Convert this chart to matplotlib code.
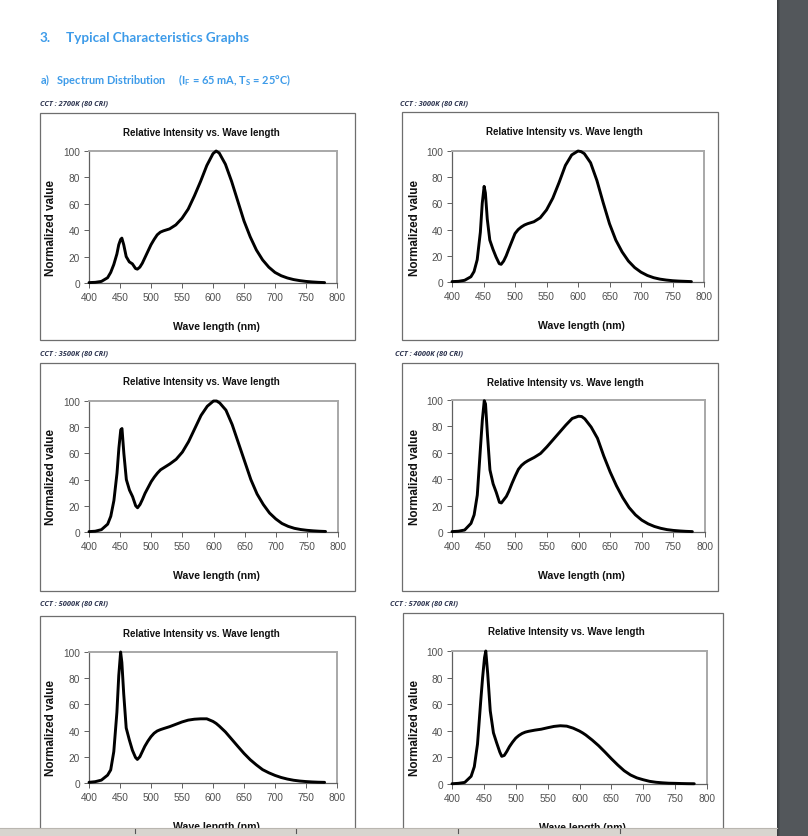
import matplotlib
matplotlib.use('Agg')
import matplotlib.pyplot as plt
from matplotlib.patches import Rectangle
from matplotlib.lines import Line2D
from matplotlib import font_manager

W, H, DPI = 808, 837, 100

# ---------------- data ----------------
wavelength = [400, 410, 420, 430, 435, 440, 445, 448, 451, 453, 456, 460, 465, 470,
              475, 478, 482, 486, 490, 495, 500, 505, 510, 515, 520, 530, 540, 550,
              560, 570, 580, 590, 600, 605, 610, 620, 630, 640, 650, 660, 670, 680,
              690, 700, 710, 720, 730, 740, 750, 760, 770, 780]

cct_2700 = [0.3, 0.5, 1.2, 4, 8, 14, 22, 29, 33, 34, 29, 20, 16, 14.5,
            11, 10.5, 12, 15, 19, 24, 29, 33, 36.5, 38.5, 39.5, 41, 44, 49,
            56, 66, 77, 89, 98, 100, 98.5, 90, 77, 62, 47, 35, 25, 17.5,
            12, 8, 5.5, 3.8, 2.6, 1.8, 1.2, 0.8, 0.5, 0.3]

cct_3000 = [0.3, 0.5, 1.3, 4, 8, 17, 38, 60, 73, 68, 48, 32, 25, 19,
            14, 13.5, 16, 20, 25, 31, 37, 40, 42, 43.5, 44.5, 46, 49, 55,
            64, 76, 89, 97, 100, 99.5, 98, 91, 77.5, 60.5, 44.5, 32, 23, 16,
            11, 7.5, 5, 3.3, 2.2, 1.5, 1.0, 0.7, 0.5, 0.3]

cct_3500 = [0.3, 0.6, 1.8, 6, 12, 24, 45, 64, 78, 79, 60, 40, 32, 27,
            20, 18.5, 21, 25, 29.5, 34, 38.5, 42, 45, 47.5, 49, 52, 55.5, 61,
            69, 79, 89, 96, 100, 100, 98.5, 93, 82, 68, 54, 40, 29, 21,
            14.5, 10, 6.5, 4.3, 2.8, 1.9, 1.3, 0.9, 0.6, 0.4]

cct_4000 = [0.3, 0.6, 1.5, 6.5, 13, 28, 64, 85, 99.5, 97, 74, 47, 36.5, 30,
            22.5, 22, 24.5, 27, 31, 37, 42.5, 47.5, 50.5, 52.5, 54, 56.5, 59.5, 64.5,
            70, 75.5, 81, 86, 87.7, 87.5, 85.7, 79.5, 71, 57.5, 45.5, 35, 26, 18.5,
            13, 9, 6.2, 4.2, 2.8, 1.8, 1.2, 0.8, 0.5, 0.3]

cct_5000 = [0.5, 1, 2.2, 6, 10, 24, 54, 82, 100, 92, 68, 42, 33, 25,
            19.5, 18, 20, 24, 28, 32, 35.4, 38, 39.7, 40.7, 41.5, 43, 44.8, 46.6,
            48, 48.7, 49, 49, 47, 45.5, 43.5, 39, 33.5, 28, 22.6, 17.8, 13.8, 10.2,
            7.8, 5.8, 4.2, 3, 2.1, 1.5, 1.1, 0.8, 0.6, 0.5]

cct_5700 = [0.2, 0.5, 1.2, 5.8, 13, 30, 62, 80, 95, 100, 83, 55, 38.5, 31,
            24, 20.8, 21.5, 24.5, 28, 31.5, 34.5, 36.5, 38, 39, 39.6, 40.5, 41.2, 42.3,
            43.3, 43.8, 43.5, 42, 39.8, 38.4, 36.8, 33, 28.8, 24, 19, 14.3, 10, 6.8,
            4.6, 3.2, 2, 1.3, 0.9, 0.6, 0.5, 0.35, 0.25, 0.2]

cct_labels = ['CCT : 2700K (80 CRI)', 'CCT : 3000K (80 CRI)', 'CCT : 3500K (80 CRI)',
              'CCT : 4000K (80 CRI)', 'CCT : 5000K (80 CRI)', 'CCT : 5700K (80 CRI)']
x_ticks = [400, 450, 500, 550, 600, 650, 700, 750, 800]
y_ticks = [0, 20, 40, 60, 80, 100]

chart_title = 'Relative Intensity vs. Wave length'
x_title = 'Wave length (nm)'
y_title = 'Normalized value'
page_title_num = '3.'
page_title = 'Typical Characteristics Graphs'
section_title = r'a)   Spectrum Distribution     (I$_\mathregular{F}$ = 65 mA, T$_\mathregular{S}$ = 25°C)'

series = [cct_2700, cct_3000, cct_3500, cct_4000, cct_5000, cct_5700]

# ---------------- layout (pixels, origin top-left) ----------------
layout = [
    dict(box=(40, 114, 355, 341), plot=(89, 152, 337, 284), tx=201, ty=132.5, cx=40, cy=104, yl=51),
    dict(box=(402, 113, 718, 341), plot=(452, 152, 704, 283), tx=564, ty=132, cx=400, cy=104, yl=415),
    dict(box=(40, 364, 355, 592), plot=(89, 402, 338, 533), tx=201, ty=382, cx=40, cy=354, yl=51),
    dict(box=(402, 364, 718, 592), plot=(452, 401, 705, 533), tx=565, ty=382.5, cx=395, cy=354, yl=415),
    dict(box=(40, 617, 355, 860), plot=(89, 653, 337, 784), tx=201, ty=634, cx=40, cy=604, yl=51),
    dict(box=(403, 614, 723, 860), plot=(452, 652, 707, 785), tx=566, ty=632.5, cx=390, cy=604, yl=415),
]

names = {f.name for f in font_manager.fontManager.ttflist}
NARROW = 'Liberation Sans Narrow' if 'Liberation Sans Narrow' in names else None
ARIAL = 'Liberation Sans'

BLUE = '#3d9be9'

fig = plt.figure(figsize=(W / DPI, H / DPI), dpi=DPI)
fig.patch.set_facecolor('white')


def fx(x):
    return x / W


def fy(y):
    return 1 - y / H


def ftext(x, y, s, **kw):
    return fig.text(fx(x), fy(y), s, **kw)


# header texts
ftext(40, 38, page_title_num, fontsize=9.7, fontweight='bold', color=BLUE,
      family=['Lato', 'DejaVu Sans'], va='center', ha='left')
ftext(66, 38, page_title, fontsize=9.7, fontweight='bold', color=BLUE,
      family=['Lato', 'DejaVu Sans'], va='center', ha='left')
ftext(40, 80, section_title, fontsize=7.9, fontweight='bold', color=BLUE,
      family=['Lato', 'DejaVu Sans'], va='center', ha='left')

if NARROW:
    title_font = dict(family=NARROW, fontsize=8.6, fontweight='bold')
    xlab_font = dict(family=NARROW, fontsize=9.2, fontweight='bold')
else:
    title_font = dict(family=ARIAL, fontsize=7.0, fontweight='bold')
    xlab_font = dict(family=ARIAL, fontsize=7.6, fontweight='bold')

for data, label, L in zip(series, cct_labels, layout):
    bx0, by0, bx1, by1 = L['box']
    fig.add_artist(Rectangle((fx(bx0), fy(by1)), (bx1 - bx0) / W, (by1 - by0) / H,
                             transform=fig.transFigure, facecolor='white',
                             edgecolor='#6e6e6e', linewidth=0.9, zorder=1))
    ftext(L['cx'], L['cy'], label, fontsize=5.3, fontweight='bold', style='italic',
          color='#2e3550', family=['Open Sans', 'DejaVu Sans'], va='center', ha='left')

    px0, py0, px1, py1 = L['plot']
    ax = fig.add_axes([fx(px0), fy(py1), (px1 - px0) / W, (py1 - py0) / H], zorder=2)
    ax.set_facecolor('white')
    ax.plot(wavelength, data, color='black', linewidth=2.1, solid_joinstyle='round',
            solid_capstyle='round', clip_on=False, zorder=5)
    ax.set_xlim(400, 800)
    ax.set_ylim(0, 100)
    ax.set_xticks(x_ticks)
    ax.set_yticks(y_ticks)
    ax.set_xticklabels([str(v) for v in x_ticks])
    ax.set_yticklabels([str(v) for v in y_ticks])
    ax.tick_params(direction='out', length=3.5, width=0.7, color='#606060',
                   labelsize=7.3, labelcolor='#505050', pad=3)
    for t in ax.get_xticklabels() + ax.get_yticklabels():
        t.set_family(ARIAL)
    for side in ['left', 'bottom']:
        ax.spines[side].set_color('#606060')
        ax.spines[side].set_linewidth(0.9)
    for side in ['top', 'right']:
        ax.spines[side].set_color('#a8a8a8')
        ax.spines[side].set_linewidth(1.4)

    ftext(L['tx'], L['ty'], chart_title, ha='center', va='center', color='#111111', **title_font)
    ftext((px0 + px1) / 2 + 3, py1 + 43, x_title, ha='center', va='center',
          color='#111111', **xlab_font)
    ftext(L['yl'], (py0 + py1) / 2 + 10, y_title, ha='center', va='center', rotation=90,
          family=ARIAL, fontsize=8.4, fontweight='bold', color='#111111')

# right dark bar (viewer background)
fig.add_artist(Rectangle((fx(777), 0), 31 / W, 1, transform=fig.transFigure,
                         facecolor='#53575b', edgecolor='none', zorder=10))
for i, c in enumerate(['#3a3d40', '#43474a', '#4b4f52']):
    fig.add_artist(Rectangle((fx(777 + i), 0), 1 / W, 1, transform=fig.transFigure,
                             facecolor=c, edgecolor='none', zorder=11))

# bottom status strip
fig.add_artist(Rectangle((0, 0), fx(777), 8 / H, transform=fig.transFigure,
                         facecolor='#d8d5cf', edgecolor='none', zorder=12))
fig.add_artist(Line2D([0, fx(777)], [fy(829), fy(829)], transform=fig.transFigure,
                      color='#b9b6b0', linewidth=0.8, zorder=13))
for xs in [135, 296, 458, 620]:
    fig.add_artist(Line2D([fx(xs), fx(xs)], [fy(830), fy(834)], transform=fig.transFigure,
                          color='#555555', linewidth=0.8, zorder=13))

fig.savefig('out.png', dpi=DPI, facecolor='white')
